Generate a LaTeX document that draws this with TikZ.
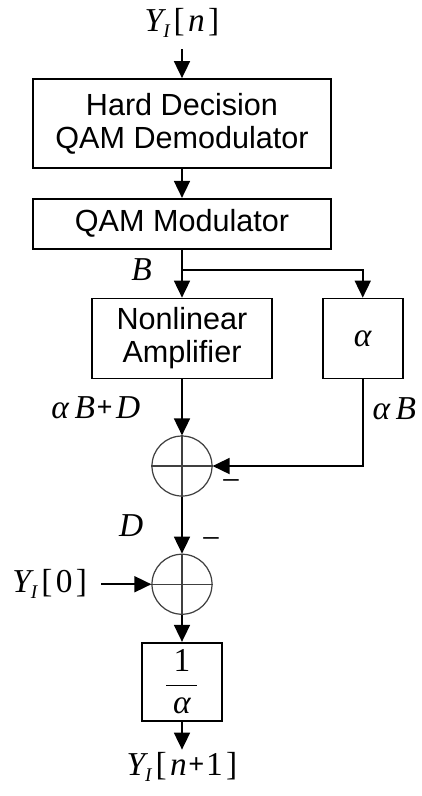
\documentclass[tikz,border=0pt]{standalone}
\usepackage{fontspec}
\setmainfont{Liberation Sans}
\newfontfamily\mathserif{Liberation Serif}
\usetikzlibrary{positioning,calc,arrows.meta}

\newcommand{\mv}[1]{{\mathserif\itshape #1}}
\newcommand{\yi}{\mv{Y}\raisebox{-3.4pt}{\fontsize{11}{11}\selectfont\mv{I}}}
\newcommand{\pl}{\raisebox{0.8pt}{\mathserif\bfseries\fontsize{16}{16}\selectfont +}}
\newcommand{\bra}[1]{\hspace{0.12em}{\mathserif[}\hspace{0.1em}#1\hspace{0.1em}{\mathserif]}}

\begin{document}
\begin{tikzpicture}[
    node distance=1cm and 1cm,
    block/.style={rectangle, draw, line width=1pt, align=center, font=\fontsize{17.4}{18.8}\selectfont},
    summer/.style={circle, draw=black!75, line width=0.7pt, minimum size=1.2cm, inner sep=0pt},
    sig/.style={inner sep=0.22cm, font=\fontsize{19}{22}\selectfont},
    lbl/.style={inner sep=0pt, font=\fontsize{19}{22}\selectfont},
    arrow/.style={-{Triangle[length=0.34cm, width=0.32cm]}, line width=1pt}
]
\useasboundingbox (-3.64,2.47) rectangle (4.78,-13.45);

% --- Blocks ---

% Demodulator and modulator
\node[block, minimum width=5.96cm, minimum height=1.78cm] (demod) {Hard Decision\\QAM Demodulator};
\node[block, minimum width=5.96cm, minimum height=1cm, below=0.58cm of demod] (mod) {QAM Modulator};

% Amplifier and gain
\node[block, minimum width=3.6cm, minimum height=1.6cm, below=0.96cm of mod] (amp) {Nonlinear\\Amplifier};
\node[block, minimum width=1.6cm, minimum height=1.6cm, right=0.98cm of amp, font=\fontsize{19}{22}\selectfont] (gain) {\mv{α}};

% Summers
\node[summer, below=1.12cm of amp] (sum1) {};
\node[summer, below=1.14cm of sum1] (sum2) {};
\draw[black!75, line width=0.7pt] (sum1.north) -- (sum1.south) (sum1.west) -- (sum1.east);
\draw[black!75, line width=0.7pt] (sum2.north) -- (sum2.south) (sum2.west) -- (sum2.east);

% Inverse gain
\node[block, minimum width=1.6cm, minimum height=1.56cm, below=0.54cm of sum2, font=\fontsize{19}{22}\selectfont] (inv) {$\displaystyle\frac{\hbox{\mathserif 1}}{\makebox[0.62cm]{\mv{α}}}$};

% --- Signals ---
\node[sig, above=0.58cm of demod] (yin) {\yi\bra{\mv{n}}};
\node[sig, inner sep=0.04cm, below=0.56cm of inv] (yout) {\yi\bra{\mv{n}\hspace{0.05em}\pl\hspace{0.05em}{\mathserif 1}}};
\node[sig, inner sep=0.28cm, left=1cm of sum2] (y0) {\yi\bra{{\mathserif 0}}};

\coordinate (br) at ($(mod.south)+(0,-0.4)$);
\node[lbl, left=0.6cm of br] (blab) {\mv{B}};
\node[lbl] (minus1) at ($(sum1)+(0.98,-0.4)$) {{\mathserif −}};
\node[lbl] (minus2) at ($(sum2)+(0.58,0.82)$) {{\mathserif −}};

% --- Arrows ---
\draw[arrow] (yin) -- (demod);
\draw[arrow] (demod) -- (mod);
\draw[arrow] (mod) -- (amp);
\draw[arrow] (br) -| (gain);
\draw[arrow] (amp) -- (sum1) node[lbl, midway, left=0.82cm] {\mv{α}\,\mv{B}\hspace{0.05em}\pl\hspace{0.1em}\mv{D}};
\draw[arrow] (gain) |- (sum1) node[lbl, pos=0.17, right=0.18cm] {\mv{α}\,\mv{B}};
\draw[arrow] (sum1) -- (sum2) node[lbl, midway, left=0.76cm] {\mv{D}};
\draw[arrow] (y0) -- (sum2);
\draw[arrow] (sum2) -- (inv);
\draw[arrow] (inv) -- (yout);

\end{tikzpicture}
\end{document}
